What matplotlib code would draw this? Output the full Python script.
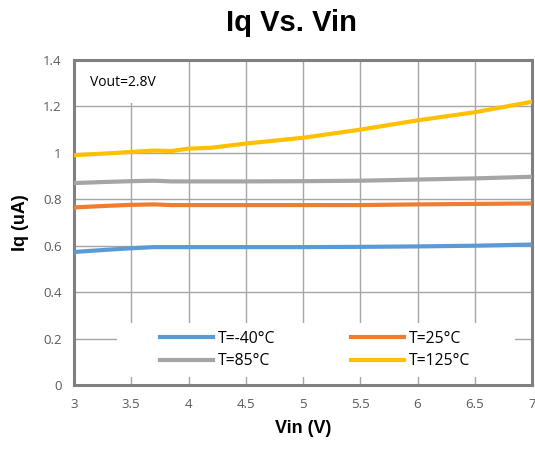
import matplotlib
matplotlib.use('Agg')
from matplotlib import pyplot as plt
from matplotlib.patches import Rectangle

vin = [3, 3.3, 3.5, 3.7, 3.85, 4, 4.2, 4.5, 5, 5.5, 6, 6.5, 7]
iq_m40 = [0.573, 0.583, 0.589, 0.594, 0.594, 0.594, 0.594, 0.594, 0.594, 0.595, 0.597, 0.600, 0.605]
iq_25 = [0.765, 0.772, 0.776, 0.778, 0.775, 0.775, 0.775, 0.775, 0.775, 0.775, 0.778, 0.780, 0.782]
iq_85 = [0.870, 0.875, 0.878, 0.880, 0.877, 0.877, 0.877, 0.877, 0.878, 0.880, 0.885, 0.890, 0.897]
iq_125 = [0.990, 0.998, 1.004, 1.010, 1.008, 1.018, 1.022, 1.040, 1.065, 1.100, 1.140, 1.175, 1.220]
labels = ['T=-40°C', 'T=25°C', 'T=85°C', 'T=125°C']
colors = ['#5b9bd5', '#ed7d31', '#a5a5a5', '#ffc000']
xticks = [3, 3.5, 4, 4.5, 5, 5.5, 6, 6.5, 7]
yticks = [0, 0.2, 0.4, 0.6, 0.8, 1, 1.2, 1.4]

plt.rcParams['font.family'] = ['Open Sans', 'DejaVu Sans']
bold = ['Liberation Sans', 'DejaVu Sans']
fig = plt.figure(figsize=(5.35, 4.55), dpi=100)
ax = fig.add_axes([74 / 535, 1 - 385 / 455, 458 / 535, 325 / 455])

lines = []
for ys, lab, c in zip([iq_m40, iq_25, iq_85, iq_125], labels, colors):
    lines += ax.plot(vin, ys, color=c, lw=3, label=lab, zorder=3)

ax.set_xlim(3, 7)
ax.set_ylim(0, 1.4)
ax.set_xticks(xticks)
ax.set_xticklabels([f'{t:g}' for t in xticks])
ax.set_yticks(yticks)
ax.set_yticklabels([f'{t:g}' for t in yticks])
ax.tick_params(length=0, labelsize=9.5, labelcolor='#595959', pad=9)
ax.grid(True, color='#a6a6a6', lw=1)
ax.set_axisbelow(True)
for s in ax.spines.values():
    s.set_color('#808080')
    s.set_linewidth(2.2)

ax.set_xlabel('Vin (V)', fontsize=13, fontweight='bold', family=bold, labelpad=7)
ax.set_ylabel('Iq (uA)', fontsize=13, fontweight='bold', family=bold, labelpad=10)
fig.suptitle('Iq Vs. Vin', x=0.545, y=0.98, fontsize=21, fontweight='bold', family=bold)

# white boxes behind the annotation and the legend
ax.add_patch(Rectangle((0, (385 - 103) / 325), 80 / 458, 1, transform=ax.transAxes,
                       facecolor='white', edgecolor='none', zorder=1))
ax.add_patch(Rectangle(((117 - 74) / 458, (385 - 377) / 325), 398 / 458, 54 / 325,
                       transform=ax.transAxes, facecolor='white', edgecolor='none', zorder=1))
ax.text(16 / 458, (385 - 83) / 325, 'Vout=2.8V', transform=ax.transAxes, fontsize=10,
        va='center', zorder=4)

order = [0, 2, 1, 3]
leg = ax.legend([lines[i] for i in order], [labels[i] for i in order], ncol=2,
                loc='center', bbox_to_anchor=((315 - 74) / 458, (385 - 350) / 325),
                frameon=False, fontsize=11.3, handlelength=3.4, columnspacing=4.8,
                handletextpad=0.3, labelspacing=0.4)

fig.savefig('out.png', dpi=100)
